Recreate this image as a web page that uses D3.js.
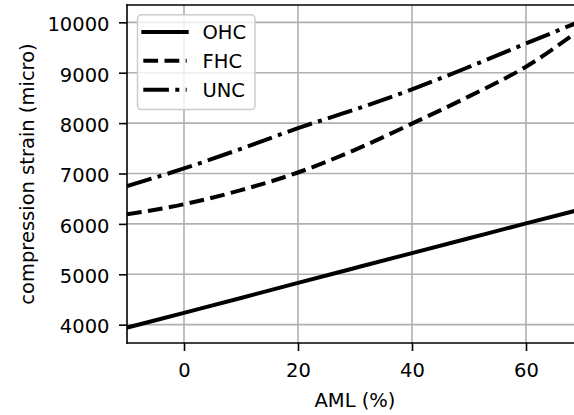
<!DOCTYPE html>
<html>
<head>
<meta charset="utf-8">
<script src="https://cdn.jsdelivr.net/npm/d3@7"></script>
<style>
  html, body { margin: 0; padding: 0; background: #fff; overflow: hidden; }
  svg { display: block; }
  text { font-family: "DejaVu Sans", sans-serif; fill: #000; }
</style>
</head>
<body>
<svg id="chart" width="574" height="415"></svg>
<script>
// ---- data ----
const amlValues = [-10, 0, 10, 20, 30, 40, 50, 60, 70];
const ohcValues = [3940, 4235, 4530, 4830, 5125, 5420, 5715, 6010, 6300];
const fhcValues = [6190, 6390, 6670, 7020, 7470, 7990, 8530, 9120, 9900];
const uncValues = [6750, 7100, 7490, 7900, 8270, 8670, 9115, 9580, 10040];
const seriesNames = ["OHC", "FHC", "UNC"];
const xTickValues = [0, 20, 40, 60];
const yTickValues = [4000, 5000, 6000, 7000, 8000, 9000, 10000];
const xLabel = "AML (%)";
const yLabel = "compression strain (micro)";

// ---- layout ----
const svg = d3.select("#chart");
const L = 127, T = 5, R = 583, B = 343;
const FS = 19.5;
const x = d3.scaleLinear().domain([-10, 70]).range([L, R]);
const y = d3.scaleLinear().domain([3636, 10344]).range([B, T]);

const dashes = ["none", "14.8,6.4", "25.6,6.4,4,6.4"];
const series = [ohcValues, fhcValues, uncValues];

svg.append("defs").append("clipPath").attr("id", "plotclip")
  .append("rect").attr("x", L).attr("y", T).attr("width", R - L).attr("height", B - T);

// grid
const grid = svg.append("g");
grid.selectAll(".gx").data(xTickValues).enter().append("line")
  .attr("x1", d => x(d)).attr("x2", d => x(d)).attr("y1", T).attr("y2", B)
  .attr("stroke", "#b0b0b0").attr("stroke-width", 1.6);
grid.selectAll(".gy").data(yTickValues).enter().append("line")
  .attr("x1", L).attr("x2", R).attr("y1", d => y(d)).attr("y2", d => y(d))
  .attr("stroke", "#b0b0b0").attr("stroke-width", 1.6);

// lines
const lineGen = d3.line().x((d, i) => x(amlValues[i])).y(d => y(d)).curve(d3.curveMonotoneX);
const lines = svg.append("g").attr("clip-path", "url(#plotclip)");
series.forEach((vals, k) => {
  lines.append("path").datum(vals)
    .attr("d", lineGen)
    .attr("fill", "none").attr("stroke", "#000").attr("stroke-width", 4)
    .attr("stroke-dasharray", dashes[k])
    .attr("stroke-linecap", k === 0 ? "square" : "butt")
    .attr("stroke-linejoin", "round");
});

// axes
const xAxis = d3.axisBottom(x).tickValues(xTickValues).tickSize(8).tickPadding(5).tickFormat(d3.format("d"));
const gx = svg.append("g").attr("transform", `translate(0,${B})`).call(xAxis);
gx.select(".domain").remove();
gx.selectAll("line").attr("stroke", "#000").attr("stroke-width", 1.6);
gx.selectAll("text").attr("font-size", FS).attr("font-family", "DejaVu Sans").attr("dy", null)
  .attr("y", 34).attr("fill", "#000");

const yAxis = d3.axisLeft(y).tickValues(yTickValues).tickSize(8).tickPadding(9.5).tickFormat(d3.format("d"));
const gy = svg.append("g").attr("transform", `translate(${L},0)`).call(yAxis);
gy.select(".domain").remove();
gy.selectAll("line").attr("stroke", "#000").attr("stroke-width", 1.6);
gy.selectAll("text").attr("font-size", FS).attr("font-family", "DejaVu Sans")
  .attr("dy", null).attr("y", 8.3).attr("fill", "#000");

// spines
const sp = svg.append("g").attr("fill", "none").attr("stroke", "#000").attr("stroke-width", 1.6)
  .attr("stroke-linecap", "square");
sp.append("line").attr("x1", L).attr("x2", L).attr("y1", T).attr("y2", B);
sp.append("line").attr("x1", L).attr("x2", R).attr("y1", B).attr("y2", B);
sp.append("line").attr("x1", L).attr("x2", R).attr("y1", T).attr("y2", T);
sp.append("line").attr("x1", R).attr("x2", R).attr("y1", T).attr("y2", B);

// axis labels
svg.append("text").attr("x", (L + R) / 2).attr("y", 406.5).attr("text-anchor", "middle")
  .attr("font-size", FS).text(xLabel);
svg.append("text").attr("transform", `translate(33.5,${(T + B) / 2}) rotate(-90)`)
  .attr("text-anchor", "middle").attr("font-size", FS).text(yLabel);

// legend
const leg = svg.append("g");
leg.append("rect").attr("x", 137.5).attr("y", 14.8).attr("width", 117.5).attr("height", 94.8)
  .attr("rx", 4).attr("ry", 4)
  .attr("fill", "#fff").attr("fill-opacity", 0.8)
  .attr("stroke", "#cccccc").attr("stroke-width", 1.5);
const rowY = [32, 60.8, 89.7];
seriesNames.forEach((name, k) => {
  leg.append("line").attr("x1", 143.3).attr("x2", 186.7).attr("y1", rowY[k]).attr("y2", rowY[k])
    .attr("stroke", "#000").attr("stroke-width", 4)
    .attr("stroke-dasharray", dashes[k]).attr("stroke-linecap", k === 0 ? "square" : "butt");
  leg.append("text").attr("x", 202.5).attr("y", rowY[k] + 7.1).attr("font-size", FS).text(name);
});
</script>
</body>
</html>
